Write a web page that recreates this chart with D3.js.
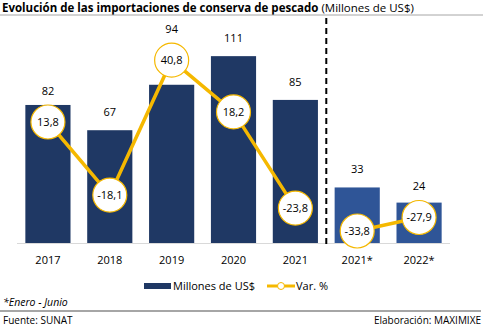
<!DOCTYPE html>
<html>
<head>
<meta charset="utf-8">
<script src="https://cdn.jsdelivr.net/npm/d3@7"></script>
<style>
  body { margin: 0; background: #fff; }
  svg { font-family: "Open Sans", "Noto Sans", sans-serif; }
</style>
</head>
<body>
<svg width="487" height="328"></svg>
<script>
// **** Data ****
var years = ['2017', '2018', '2019', '2020', '2021', '2021*', '2022*'];
var millones = [82, 67, 94, 111, 85, 33, 24];
var variacion = [13.8, -18.1, 40.8, 18.2, -23.8, -33.8, -27.9];
var partial = [false, false, false, false, false, true, true];

var svg = d3.select('svg');

// **** Scales ****
var xScale = d3.scaleBand()
    .domain(years).range([17, 450]).paddingInner(0.27).paddingOuter(0.135);

var yScale = d3.scaleLinear()
    .domain([0, 120]).range([243, 41]);

var varScale = d3.scaleLinear()
    .domain([-40, 60]).range([245.2, 16.2]);

var fmt = function(v) { return v.toFixed(1).replace('.', ','); };

// **** Title ****
var title = svg.append('text')
    .attr('x', 2).attr('y', 12)
    .style('font-size', '11.5px').style('fill', '#000');
title.append('tspan').style('font-weight', 'bold')
    .text('Evolución de las importaciones de conserva de pescado ');
title.append('tspan').text('(Millones de US$)');

svg.append('line')
    .attr('x1', 0).attr('x2', 483).attr('y1', 15).attr('y2', 15)
    .attr('stroke', '#a6a6a6').attr('stroke-width', 1);

// **** Bars ****
svg.selectAll('rect.bar')
    .data(millones)
    .enter()
    .append('rect')
    .attr('class', 'bar')
    .attr('x', function(d, i) { return xScale(years[i]); })
    .attr('width', xScale.bandwidth())
    .attr('y', function(d) { return yScale(d); })
    .attr('height', function(d) { return yScale(0) - yScale(d); })
    .attr('fill', function(d, i) { return partial[i] ? '#2f5597' : '#1f3864'; });

// baseline
svg.append('line')
    .attr('x1', xScale.range()[0]).attr('x2', xScale.range()[1])
    .attr('y1', yScale(0) + 0.5).attr('y2', yScale(0) + 0.5)
    .attr('stroke', '#d9d9d9').attr('stroke-width', 1);

// x axis labels
svg.append('g')
    .attr('transform', 'translate(0,' + yScale(0) + ')')
    .call(d3.axisBottom(xScale).tickSize(0).tickPadding(13))
    .call(function(g) { g.select('.domain').remove(); })
    .selectAll('text')
    .style('font-size', '11px').style('font-family', '"Open Sans", sans-serif').style('fill', '#000');

// dashed separator between 2021 and 2021*
var sepX = (xScale('2021') + xScale.bandwidth() + xScale('2021*')) / 2;
svg.append('line')
    .attr('x1', sepX).attr('x2', sepX).attr('y1', 18).attr('y2', yScale(0) + 1)
    .attr('stroke', '#000').attr('stroke-width', 2).attr('stroke-dasharray', '6,4');

// **** Var. % line ****
var R = 17;
var line = d3.line()
    .x(function(d, i) { return xScale(years[i]) + xScale.bandwidth() / 2; })
    .y(function(d) { return varScale(d); });

svg.append('path')
    .attr('d', line(variacion.slice(0, 5)))
    .attr('fill', 'none').attr('stroke', '#f5b800').attr('stroke-width', 3.5);
svg.append('path')
    .attr('d', line.x(function(d, i) { return xScale(years[i + 5]) + xScale.bandwidth() / 2; })(variacion.slice(5)))
    .attr('fill', 'none').attr('stroke', '#f5b800').attr('stroke-width', 3.5);

var pts = svg.selectAll('g.pt')
    .data(variacion)
    .enter()
    .append('g')
    .attr('class', 'pt')
    .attr('transform', function(d, i) {
        return 'translate(' + (xScale(years[i]) + xScale.bandwidth() / 2) + ',' + varScale(d) + ')';
    });

pts.append('circle')
    .attr('r', R)
    .attr('fill', '#fff').attr('stroke', '#f5b800').attr('stroke-width', 1.2);

pts.append('text')
    .attr('text-anchor', 'middle').attr('dy', '0.35em')
    .style('font-size', '11px').style('fill', '#000')
    .text(function(d) { return fmt(d); });

// **** Bar value labels ****
svg.selectAll('text.val')
    .data(millones)
    .enter()
    .append('text')
    .attr('class', 'val')
    .attr('text-anchor', 'middle')
    .attr('x', function(d, i) { return xScale(years[i]) + xScale.bandwidth() / 2; })
    .attr('y', function(d, i) {
        var top = yScale(d);
        var cTop = varScale(variacion[i]) - R;
        return (cTop < top + 10) ? Math.min(top, cTop) - 10 : top - 14;
    })
    .style('font-size', '11px').style('fill', '#000')
    .text(function(d) { return d; });

// **** Legend ****
var legend = svg.append('g').attr('transform', 'translate(144,286)');
legend.append('rect')
    .attr('x', 0).attr('y', -3).attr('width', 27).attr('height', 6).attr('fill', '#1f3864');
legend.append('text')
    .attr('x', 29).attr('dy', '0.35em')
    .style('font-size', '11px').text('Millones de US$');
legend.append('line')
    .attr('x1', 123).attr('x2', 151).attr('y1', 0).attr('y2', 0)
    .attr('stroke', '#f5b800').attr('stroke-width', 3);
legend.append('circle')
    .attr('cx', 137).attr('cy', 0).attr('r', 3.5)
    .attr('fill', '#fff').attr('stroke', '#f5b800').attr('stroke-width', 1);
legend.append('text')
    .attr('x', 152).attr('dy', '0.35em')
    .style('font-size', '11px').text('Var. %');

// **** Notes ****
svg.append('text')
    .attr('x', 3).attr('y', 306)
    .style('font-size', '10.5px').style('font-style', 'italic')
    .text('*Enero - Junio');

svg.append('line')
    .attr('x1', 0).attr('x2', 481).attr('y1', 311).attr('y2', 311)
    .attr('stroke', '#a6a6a6').attr('stroke-width', 2);

svg.append('text')
    .attr('x', 3).attr('y', 324)
    .style('font-size', '10px')
    .text('Fuente: SUNAT');

svg.append('text')
    .attr('x', 481).attr('y', 324).attr('text-anchor', 'end')
    .style('font-size', '10px')
    .text('Elaboración: MAXIMIXE');
</script>
</body>
</html>
